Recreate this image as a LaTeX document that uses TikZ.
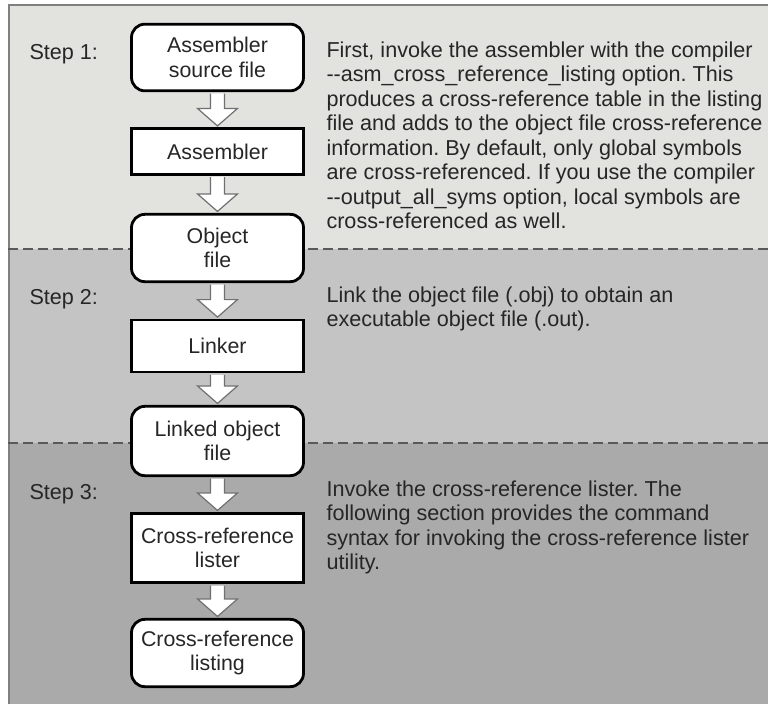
\documentclass[tikz,border=0pt]{standalone}
\usepackage{fontspec}
\setmainfont{Liberation Sans}
\usetikzlibrary{calc}
\frenchspacing
\tikzset{every picture/.style={line width=0.75pt}}
\definecolor{bandone}{RGB}{226,226,223}
\definecolor{bandtwo}{RGB}{196,196,196}
\definecolor{bandthree}{RGB}{170,170,170}
\definecolor{frameline}{RGB}{128,128,128}
\definecolor{arrowline}{RGB}{112,112,112}
\definecolor{inktext}{RGB}{38,38,38}
\tikzset{
  filebox/.style={draw, line width=2.1pt, rounded corners=10pt, fill=white, text=inktext,
    minimum width=129pt, align=center, inner sep=0.75pt, font=\fontsize{16}{18.4}\selectfont},
  toolbox/.style={filebox, sharp corners},
  downarrow/.style={draw=arrowline, fill=white, line width=0.9pt, line join=miter},
  steplabel/.style={anchor=base west, inner sep=0.75pt, text=inktext, font=\fontsize{16.2}{18.4}\selectfont},
  steptext/.style={anchor=north west, inner sep=0.75pt, align=left, text=inktext, font=\fontsize{16.2}{18.4}\selectfont},
}

\begin{document}
\begin{tikzpicture}[x=0.75pt,y=0.75pt,yscale=-1,xscale=1]
\useasboundingbox (0,0) rectangle (768,704);

%Shape: Rectangle [band 1]
\fill [bandone] (8,5) rectangle (768,249) ;
%Shape: Rectangle [band 2]
\fill [bandtwo] (8,249) rectangle (768,443) ;
%Shape: Rectangle [band 3]
\fill [bandthree] (8,443) rectangle (768,704) ;
%Straight Lines [frame]
\draw [frameline, line width=1.6pt] (9,704) -- (9,5) -- (768,5) ;
%Straight Lines [dashed separators]
\draw [black!65, line width=0.9pt, dash pattern=on 7.5pt off 3.75pt] (8,249) -- (768,249) ;
\draw [black!65, line width=0.9pt, dash pattern=on 7.5pt off 3.75pt] (8,443) -- (768,443) ;

% File and tool boxes
\draw (217.5,57.5) node [filebox, minimum height=50pt] (src) {Assembler\\source file};
\draw (217.5,151.5) node [toolbox, minimum height=34pt] (asm) {Assembler};
\draw (217.5,248) node [filebox, minimum height=50.5pt] (obj) {Object\\file};
\draw (217.5,346) node [toolbox, minimum height=39pt] (lnk) {Linker};
\draw (217.5,441) node [filebox, minimum height=52pt] (lobj) {Linked object\\file};
\draw (217.5,548) node [toolbox, minimum height=52pt] (xlst) {Cross-reference\\lister};
\draw (217.5,653) node [filebox, minimum height=50.5pt] (xlisting) {Cross-reference\\listing};

%Shape: Down Arrow
\draw [downarrow] ($(src.south)+(-7,1.5)$) -- ($(asm.north)+(-7,-19)$) -- ++(-13,0) -- ($(asm.north)+(0,-1.5)$) -- ($(asm.north)+(20,-19)$) -- ++(-13,0) -- ($(src.south)+(7,1.5)$) ;
%Shape: Down Arrow
\draw [downarrow] ($(asm.south)+(-7,1.5)$) -- ($(obj.north)+(-7,-19)$) -- ++(-13,0) -- ($(obj.north)+(0,-1.5)$) -- ($(obj.north)+(20,-19)$) -- ++(-13,0) -- ($(asm.south)+(7,1.5)$) ;
%Shape: Down Arrow
\draw [downarrow] ($(obj.south)+(-7,1.5)$) -- ($(lnk.north)+(-7,-19)$) -- ++(-13,0) -- ($(lnk.north)+(0,-1.5)$) -- ($(lnk.north)+(20,-19)$) -- ++(-13,0) -- ($(obj.south)+(7,1.5)$) ;
%Shape: Down Arrow
\draw [downarrow] ($(lnk.south)+(-7,1.5)$) -- ($(lobj.north)+(-7,-19)$) -- ++(-13,0) -- ($(lobj.north)+(0,-1.5)$) -- ($(lobj.north)+(20,-19)$) -- ++(-13,0) -- ($(lnk.south)+(7,1.5)$) ;
%Shape: Down Arrow
\draw [downarrow] ($(lobj.south)+(-7,1.5)$) -- ($(xlst.north)+(-7,-19)$) -- ++(-13,0) -- ($(xlst.north)+(0,-1.5)$) -- ($(xlst.north)+(20,-19)$) -- ++(-13,0) -- ($(lobj.south)+(7,1.5)$) ;
%Shape: Down Arrow
\draw [downarrow] ($(xlst.south)+(-7,1.5)$) -- ($(xlisting.north)+(-7,-19)$) -- ++(-13,0) -- ($(xlisting.north)+(0,-1.5)$) -- ($(xlisting.north)+(20,-19)$) -- ++(-13,0) -- ($(xlst.south)+(7,1.5)$) ;

% Text Node
\draw (28,59) node [steplabel] (stepone) {Step 1:};
% Text Node
\draw (28,304) node [steplabel] (steptwo) {Step 2:};
% Text Node
\draw (28,499) node [steplabel] (stepthree) {Step 3:};
% Text Node
\draw (325,40) node [steptext] (txtone) {First, invoke the assembler with the compiler\\-{}-asm\_cross\_reference\_listing option. This\\produces a cross-reference table in the listing\\file and adds to the object file cross-reference\\information. By default, only global symbols\\are cross-referenced. If you use the compiler\\-{}-output\_all\_syms option, local symbols are\\cross-referenced as well.};
% Text Node
\draw (325,285) node [steptext] (txttwo) {Link the object file (.obj) to obtain an\\executable object file (.out).};
% Text Node
\draw (325,479) node [steptext] (txtthree) {Invoke the cross-reference lister. The\\following section provides the command\\syntax for invoking the cross-reference lister\\utility.};

\end{tikzpicture}
\end{document}
